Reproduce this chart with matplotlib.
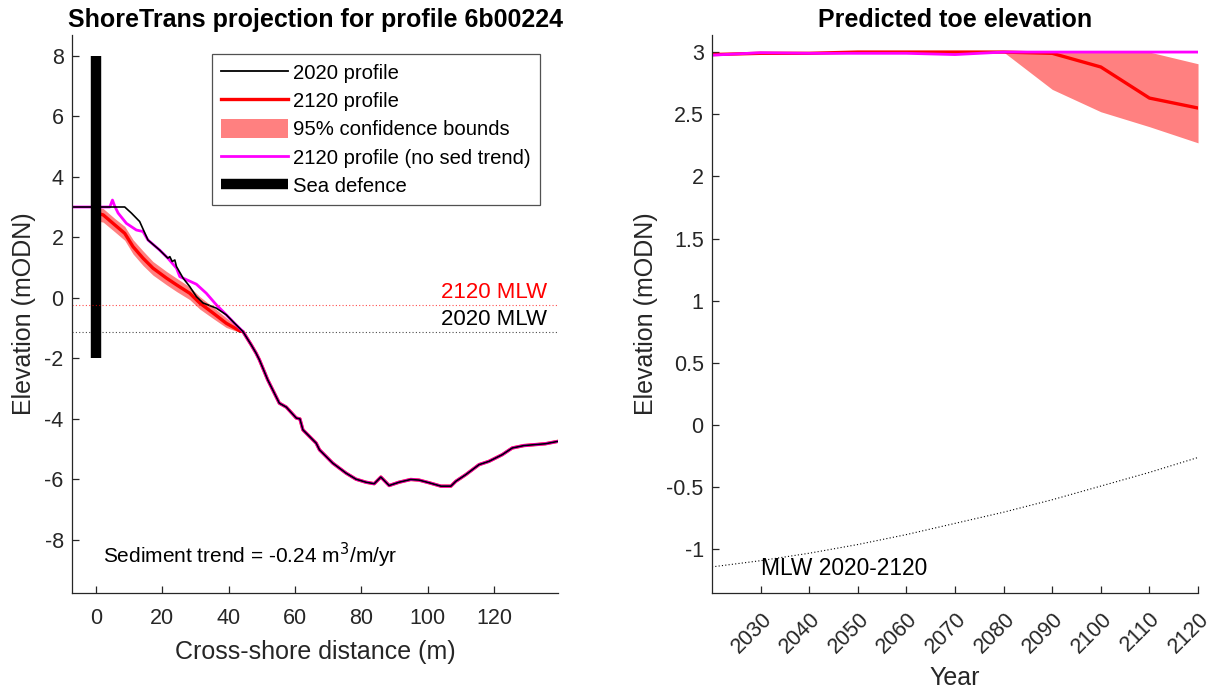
import matplotlib
matplotlib.use("Agg")
import matplotlib.pyplot as plt
import matplotlib.transforms as mtransforms
from matplotlib.lines import Line2D
from matplotlib.patches import Patch
from matplotlib.ticker import FuncFormatter

plt.rcParams['font.family'] = ['Liberation Sans', 'DejaVu Sans']
plt.rcParams['axes.unicode_minus'] = False

# --- left panel data: cross-shore profiles ---
# shared seaward part (all profiles coincide beyond ~44 m)
sea_x = [44.3, 46.8, 48.3, 49.3, 51.8, 55.3, 57.4, 60.4, 61.5, 62.4, 66.4, 67.4, 71.4, 75.4,
         78.4, 81.4, 83.9, 85.9, 88.4, 91.4, 94.9, 97.4, 100.5, 104.0, 107.0, 108.5, 111.5,
         115.5, 118.5, 122.5, 125.5, 129.0, 135.5, 139.3]
sea_y = [-1.11, -1.55, -1.83, -2.05, -2.71, -3.48, -3.61, -3.97, -4.0, -4.36, -4.8, -5.02, -5.46,
         -5.79, -5.99, -6.09, -6.14, -5.92, -6.2, -6.09, -6.0, -6.02, -6.11, -6.22, -6.22, -6.06,
         -5.84, -5.51, -5.4, -5.18, -4.96, -4.88, -4.82, -4.74]

# 2020 profile, landward part
p2020_x = [-7.2, 0.0, 8.7, 10.7, 13.2, 15.7, 19.2, 21.7, 22.3, 23.0, 23.8, 24.3, 26.3, 28.3,
           30.3, 32.3, 36.3, 39.3, 41.8]
p2020_y = [3.0, 3.0, 3.0, 2.8, 2.52, 1.91, 1.58, 1.31, 1.36, 1.2, 1.25, 1.03, 0.65, 0.37,
           0.04, -0.17, -0.34, -0.56, -0.84]

# 2120 profile (with sediment trend), landward part
p2120_x = [0.0, 2.2, 5.7, 8.7, 11.2, 14.2, 17.2, 21.3, 24.3, 28.3, 31.3, 35.3, 39.3, 43.5]
p2120_y = [2.8, 2.74, 2.41, 2.13, 1.69, 1.31, 0.98, 0.65, 0.43, 0.15, -0.17, -0.5, -0.84, -1.1]

# 95% confidence bounds of 2120 profile
band_x = [0.0, 2.2, 5.7, 8.7, 11.2, 14.2, 17.2, 21.3, 24.3, 28.3, 31.3, 35.3, 39.3, 43.3, 44.3]
band_hi = [3.0, 2.95, 2.62, 2.36, 1.92, 1.55, 1.2, 0.87, 0.65, 0.36, 0.04, -0.3, -0.66, -1.0, -1.11]
band_lo = [2.55, 2.5, 2.18, 1.9, 1.45, 1.07, 0.75, 0.43, 0.21, -0.06, -0.37, -0.68, -0.98, -1.14, -1.11]

# 2120 profile without sediment trend, landward part
pnst_x = [-7.2, 4.2, 5.0, 5.6, 6.7, 9.2, 12.2, 14.2, 15.7, 19.2, 21.7, 24.3, 25.3, 27.3, 30.3,
          33.3, 36.3, 39.3, 41.8]
pnst_y = [3.0, 3.0, 3.23, 3.05, 2.8, 2.46, 2.24, 2.19, 1.91, 1.58, 1.31, 0.98, 0.7, 0.6, 0.45,
          0.15, -0.23, -0.56, -0.84]

defence_x = [0, 0]
defence_y = [-2, 8]

mlw_2020 = -1.14
mlw_2120 = -0.25
sed_trend = -0.24

# --- right panel data: toe elevation ---
years = [2020, 2030, 2040, 2050, 2060, 2070, 2080, 2090, 2100, 2110, 2120]
toe_2120 = [2.98, 2.99, 2.99, 3.0, 3.0, 3.0, 3.0, 2.99, 2.88, 2.63, 2.55]
toe_hi = [2.98, 2.99, 2.99, 3.0, 3.0, 3.0, 3.0, 3.0, 3.0, 3.0, 2.906]
toe_lo = [2.98, 2.99, 2.99, 3.0, 3.0, 3.0, 3.0, 2.70, 2.52, 2.40, 2.27]
toe_nst = [2.975, 2.995, 2.99, 2.99, 2.99, 2.98, 3.0, 3.0, 3.0, 3.0, 3.0]
mlw_years = [-1.14, -1.09, -1.03, -0.96, -0.88, -0.79, -0.70, -0.60, -0.49, -0.38, -0.26]

x_ticks = [0, 20, 40, 60, 80, 100, 120]
y_ticks_left = [-8, -6, -4, -2, 0, 2, 4, 6, 8]
year_ticks = [2030, 2040, 2050, 2060, 2070, 2080, 2090, 2100, 2110, 2120]
y_ticks_right = [-1, -0.5, 0, 0.5, 1, 1.5, 2, 2.5, 3]

RED = '#ff0000'
BAND = '#ff8080'
MAG = '#ff00ff'
AX = '#262626'

fig = plt.figure(figsize=(12.2, 6.91), dpi=100)
axL = fig.add_axes([0.0590, 0.1418, 0.3984, 0.8075])
axR = fig.add_axes([0.5836, 0.1418, 0.3984, 0.8075])


def style(ax):
    for s in ['top', 'right']:
        ax.spines[s].set_visible(False)
    for s in ['left', 'bottom']:
        ax.spines[s].set_color(AX)
        ax.spines[s].set_linewidth(0.9)
    ax.tick_params(direction='in', length=5, width=0.9, color=AX, labelcolor=AX,
                   labelsize=15.5, pad=6)


# left panel
style(axL)
axL.tick_params(axis='x', pad=11)
axL.fill_between(band_x, band_lo, band_hi, color=BAND, lw=0)
axL.plot(p2120_x + sea_x, p2120_y + sea_y, color=RED, lw=2.4)
axL.plot(pnst_x + sea_x, pnst_y + sea_y, color=MAG, lw=2.0)
axL.plot(p2020_x + sea_x, p2020_y + sea_y, color='black', lw=1.2)
axL.plot(defence_x, defence_y, color='black', lw=7.5, solid_capstyle='butt')

x0, x1 = p2020_x[0], sea_x[-1]
axL.plot([x0, x1], [mlw_2120, mlw_2120], color=RED, lw=0.8, ls=(0, (1, 2)), alpha=0.7)
axL.plot([x0, x1], [mlw_2020, mlw_2020], color='black', lw=0.8, ls=(0, (1, 2)), alpha=0.7)
axL.text(136, mlw_2120 + 0.08, '2120 MLW', color=RED, fontsize=16, ha='right', va='bottom')
axL.text(136, mlw_2020 + 0.08, '2020 MLW', color='black', fontsize=16, ha='right', va='bottom')
axL.text(2.0, -8.5, 'Sediment trend = %.2f m$^3$/m/yr' % sed_trend, fontsize=15, va='center')

axL.set_xlim(-7.2, 139.3)
axL.set_ylim(-9.75, 8.68)
axL.set_xticks(x_ticks)
axL.set_yticks(y_ticks_left)
axL.set_xlabel('Cross-shore distance (m)', fontsize=18, color=AX, labelpad=8)
axL.set_ylabel('Elevation (mODN)', fontsize=18, color=AX, labelpad=6)
axL.set_title('ShoreTrans projection for profile 6b00224', fontsize=18, fontweight='bold', pad=6)

handles = [
    Line2D([], [], color='black', lw=1.3),
    Line2D([], [], color=RED, lw=2.4),
    Patch(facecolor=BAND, edgecolor='none'),
    Line2D([], [], color=MAG, lw=2.0),
    Line2D([], [], color='black', lw=7.5, solid_capstyle='butt'),
]
labels = ['2020 profile', '2120 profile', '95% confidence bounds',
          '2120 profile (no sed trend)', 'Sea defence']
leg = axL.legend(handles, labels, loc='upper right', bbox_to_anchor=(0.963, 0.966),
                 fontsize=14.6, frameon=True, fancybox=False, handlelength=3.3,
                 handleheight=1.0, handletextpad=0.25, labelspacing=0.4,
                 borderpad=0.45, borderaxespad=0)
leg.get_frame().set_edgecolor(AX)
leg.get_frame().set_linewidth(0.9)

# right panel
style(axR)
axR.tick_params(axis='x', pad=11)
axR.fill_between(years, toe_lo, toe_hi, color=BAND, lw=0)
axR.plot(years, toe_2120, color=RED, lw=2.4)
axR.plot(years, toe_nst, color=MAG, lw=2.0)
axR.plot(years, mlw_years, color='black', lw=0.8, ls=(0, (1, 2)))
axR.text(2030, -1.15, 'MLW 2020-2120', fontsize=16.4, va='center', ha='left')

axR.set_xlim(2020, 2120)
axR.set_ylim(-1.35, 3.137)
axR.set_xticks(year_ticks)
axR.set_yticks(y_ticks_right)
axR.yaxis.set_major_formatter(FuncFormatter(lambda v, p: '%g' % v))
shift = mtransforms.ScaledTranslation(-9 / 100, 0, fig.dpi_scale_trans)
for lab in axR.get_xticklabels():
    lab.set_rotation(45)
    lab.set_ha('center')
    lab.set_transform(lab.get_transform() + shift)
axR.set_xlabel('Year', fontsize=18, color=AX, labelpad=6)
axR.set_ylabel('Elevation (mODN)', fontsize=18, color=AX, labelpad=6)
axR.set_title('Predicted toe elevation', fontsize=18, fontweight='bold', pad=6)

fig.savefig('out.png', dpi=100, facecolor='white')
